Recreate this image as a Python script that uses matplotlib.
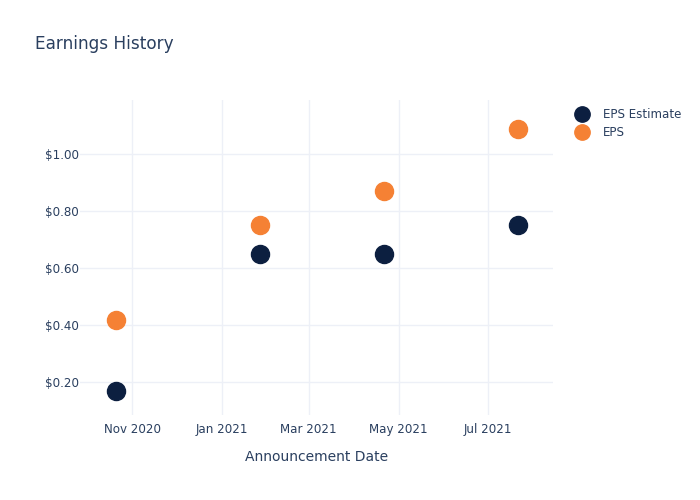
import matplotlib
matplotlib.use('Agg')
import matplotlib.pyplot as plt
import matplotlib.dates as mdates
import numpy as np

# 数据
dates = np.array(['2020-10-21', '2021-01-27', '2021-04-21', '2021-07-21'], dtype='datetime64[D]')
eps_estimate = [0.17, 0.65, 0.65, 0.75]
eps_actual = [0.42, 0.75, 0.87, 1.09]

text_color = '#2a3f5f'
grid_color = '#edf0f7'

plt.rcParams['font.family'] = ['DejaVu Sans']

fig = plt.figure(figsize=(7, 5), dpi=100)
ax = fig.add_axes([80 / 700, 85 / 500, 473 / 700, 315 / 500])

ax.plot(dates, eps_estimate, 'o', color='#0c1f40', markersize=13, label='EPS Estimate', zorder=3)
ax.plot(dates, eps_actual, 'o', color='#f58134', markersize=13, label='EPS', zorder=3)

ax.set_xlim(np.datetime64('2020-09-26T12'), np.datetime64('2021-08-14'))
ax.set_ylim(0.085, 1.19)

ax.set_yticks([0.2, 0.4, 0.6, 0.8, 1.0])
ax.yaxis.set_major_formatter(plt.FuncFormatter(lambda v, p: f'${v:.2f}'))
ax.xaxis.set_major_locator(mdates.MonthLocator(bymonth=[1, 3, 5, 7, 11]))
ax.xaxis.set_major_formatter(mdates.DateFormatter('%b %Y'))

ax.grid(True, color=grid_color, linewidth=1)
ax.set_axisbelow(True)
for s in ax.spines.values():
    s.set_visible(False)
ax.tick_params(length=0, colors=text_color, labelsize=8.6)
ax.tick_params(axis='x', pad=5.5)
ax.tick_params(axis='y', pad=1)

ax.set_xlabel('Announcement Date', color=text_color, fontsize=10, labelpad=10)

fig.text(35 / 700, 1 - 44 / 500, 'Earnings History', color=text_color, fontsize=12.2, va='center')

leg = ax.legend(loc='upper left', bbox_to_anchor=(1.027, 0.99), frameon=False,
                fontsize=8.6, labelcolor=text_color, markerscale=0.85,
                handletextpad=0.7, borderaxespad=0, labelspacing=0.45)

fig.savefig('out.png', dpi=100)
